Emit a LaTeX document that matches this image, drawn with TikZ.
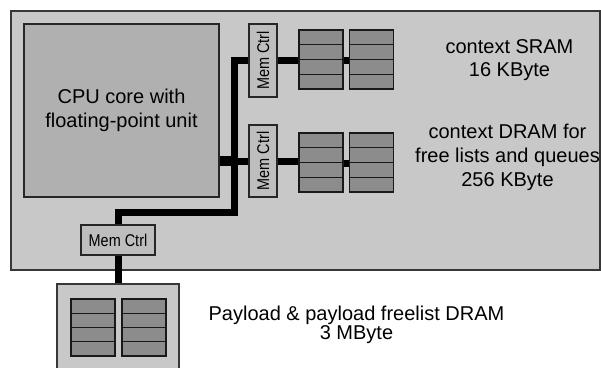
\documentclass[tikz,border=0pt]{standalone}
\usepackage{fontspec}
\usepackage{graphicx}
\setmainfont{Liberation Sans}
\newfontfamily\ctrlfont[FakeStretch=0.85]{Liberation Sans}
\usetikzlibrary{positioning}
\definecolor{chipgray}{RGB}{200,200,200}
\definecolor{cpugray}{RGB}{176,176,176}
\definecolor{ctrlgray}{RGB}{190,190,190}
\definecolor{cellgray}{RGB}{140,140,140}
\definecolor{edgegray}{RGB}{55,55,55}

\begin{document}
\begin{tikzpicture}[x=1pt, y=-1pt, font=\fontsize{20}{24}\selectfont,
  chip/.style={draw=edgegray, fill=chipgray, line width=1.6pt, inner sep=0pt},
  cpu/.style={draw=black!85, fill=cpugray, line width=1.8pt, minimum width=195pt, minimum height=173pt, align=center, inner sep=0pt},
  ctrl/.style={draw=black!85, fill=ctrlgray, line width=1.3pt, inner sep=0pt, font=\ctrlfont\fontsize{17}{17}\selectfont},
  cell/.style={draw=black!90, fill=cellgray, line width=1.4pt, minimum width=44pt, inner sep=0pt},
  bus/.style={line width=7pt, black},
  lab/.style={align=center, inner sep=0pt}]
\path[use as bounding box, clip] (0,0) rectangle (601,367);
% chip and external DRAM
\node[chip, minimum width=589pt, minimum height=259pt, anchor=north west] (chip) at (10,10) {};
\node[chip, minimum width=122pt, minimum height=110pt, anchor=north] (dram) at (118,283) {};
\node[cpu] (cpu) at (121.5,110.5) {\fontsize{20}{25}\selectfont CPU core with\\floating-point unit};
% memory controllers
\node[ctrl, minimum width=28pt, minimum height=73pt] (ctrlA) at (263,60.5) {\rotatebox{90}{Mem Ctrl}};
\node[ctrl, minimum width=28pt, minimum height=72pt] (ctrlB) at (263,161) {\rotatebox{90}{Mem Ctrl}};
\node[ctrl, minimum width=74pt, minimum height=30pt] (ctrlC) at (118,240) {Mem Ctrl};
% memory banks
\foreach \r in {1,...,4} {
  \node[cell, minimum height=14.75pt] (sa-l\r) at (321,22.625+14.75*\r) {};
  \node[cell, minimum height=14.75pt] (sa-r\r) at (371.5,22.625+14.75*\r) {};
  \node[cell, minimum height=14.75pt] (da-l\r) at (321,125.625+14.75*\r) {};
  \node[cell, minimum height=14.75pt] (da-r\r) at (371.5,125.625+14.75*\r) {};
  \node[cell, minimum height=14.25pt] (pl-l\r) at (93,291.875+14.25*\r) {};
  \node[cell, minimum height=14.25pt] (pl-r\r) at (144,291.875+14.25*\r) {};
}
% buses
\coordinate (tap) at (234.5,161);
\coordinate (busend) at (234.5,212);
\draw[bus] (ctrlA.west) -| (busend) -| (ctrlC.north);
\draw[bus, line width=9.5pt] (cpu.east |- tap) -- (tap);
\draw[bus] (tap) -- (ctrlB.west);
\draw[bus] (ctrlC.south) -- (dram.north);
\draw[bus] (ctrlA.east) -- (ctrlA.east -| sa-l2.west);
\draw[bus] (sa-l2.south east) -- (sa-r2.south west);
\draw[bus] (ctrlB.east) -- (ctrlB.east -| da-l2.west);
\draw[bus] (da-l2.south east) -- (da-r2.south west);
% labels
\node[lab, font=\fontsize{20}{23}\selectfont] (sramlab) at (509.5,60) {context SRAM\\16 KByte};
\node[lab] (dramlab) at (507.5,157) {context DRAM for\\free lists and queues\\256 KByte};
\node[lab, font=\fontsize{20}{18.5}\selectfont] (paylab) at (356.5,325) {Payload \& payload freelist DRAM\\3 MByte};
\end{tikzpicture}
\end{document}
